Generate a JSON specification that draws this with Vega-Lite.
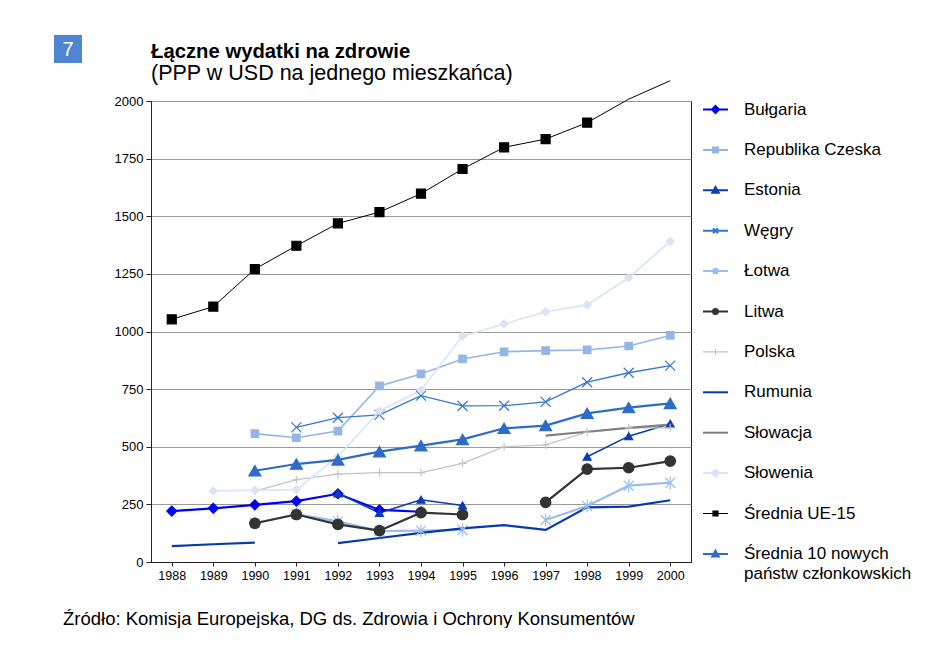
{
  "$schema": "https://vega.github.io/schema/vega-lite/v6.json",
  "padding": {"left": 54, "top": 34, "right": 0, "bottom": 0},
  "background": "white",
  "config": {
    "font": "Liberation Sans",
    "view": {"stroke": "#222222", "strokeWidth": 1}
  },
  "title": {
    "text": "Źródło: Komisja Europejska, DG ds. Zdrowia i Ochrony Konsumentów",
    "orient": "bottom",
    "anchor": "start",
    "frame": "bounds",
    "fontSize": 18.5,
    "fontWeight": "normal",
    "color": "#000000",
    "dx": 9,
    "offset": 27
  },
  "spacing": 31,
  "resolve": {"scale": {"color": "independent"}, "legend": {"color": "independent"}},
  "hconcat": [
    {
      "width": 28,
      "height": 28,
      "view": {"fill": "#4F85D2", "stroke": null},
      "data": {"values": [{"label": "7"}]},
      "mark": {"type": "text", "color": "#FFFFFF", "fontSize": 20, "align": "center", "baseline": "middle", "dy": 1},
      "encoding": {"text": {"field": "label", "type": "nominal"}}
    },
    {
      "spacing": -7,
      "resolve": {"scale": {"color": "independent"}, "legend": {"color": "independent"}},
      "vconcat": [
        {
          "width": 540,
          "height": 1,
          "view": {"stroke": null},
          "data": {"values": [{"t": ""}]},
          "mark": {"type": "text", "fontSize": 1},
          "encoding": {"text": {"field": "t", "type": "nominal"}},
          "title": {
            "text": "Łączne wydatki na zdrowie",
            "subtitle": "(PPP w USD na jednego mieszkańca)",
            "orient": "bottom",
            "anchor": "start",
            "frame": "group",
            "fontSize": 20.3,
            "fontWeight": "bold",
            "color": "#000000",
            "subtitleFontSize": 21.5,
            "subtitleColor": "#000000",
            "subtitlePadding": 1,
            "offset": 6
          }
        },
        {
          "width": 540,
          "height": 461,
          "data": {
            "values": [
              {"year": 1988, "series": "Bułgaria", "value": 221},
              {"year": 1989, "series": "Bułgaria", "value": 233},
              {"year": 1990, "series": "Bułgaria", "value": 248},
              {"year": 1991, "series": "Bułgaria", "value": 264},
              {"year": 1992, "series": "Bułgaria", "value": 296},
              {"year": 1993, "series": "Bułgaria", "value": 226},
              {"year": 1994, "series": "Bułgaria", "value": 218},
              {"year": 1990, "series": "Republika Czeska", "value": 557},
              {"year": 1991, "series": "Republika Czeska", "value": 539},
              {"year": 1992, "series": "Republika Czeska", "value": 568},
              {"year": 1993, "series": "Republika Czeska", "value": 764},
              {"year": 1994, "series": "Republika Czeska", "value": 816},
              {"year": 1995, "series": "Republika Czeska", "value": 881},
              {"year": 1996, "series": "Republika Czeska", "value": 912},
              {"year": 1997, "series": "Republika Czeska", "value": 917},
              {"year": 1998, "series": "Republika Czeska", "value": 920},
              {"year": 1999, "series": "Republika Czeska", "value": 937},
              {"year": 2000, "series": "Republika Czeska", "value": 983},
              {"year": 1992, "series": "Estonia", "value": 298},
              {"year": 1993, "series": "Estonia", "value": 213},
              {"year": 1994, "series": "Estonia", "value": 270},
              {"year": 1995, "series": "Estonia", "value": 245},
              {"year": 1996, "series": "Estonia", "value": null},
              {"year": 1997, "series": "Estonia", "value": null},
              {"year": 1998, "series": "Estonia", "value": 457},
              {"year": 1999, "series": "Estonia", "value": 546},
              {"year": 2000, "series": "Estonia", "value": 600},
              {"year": 1991, "series": "Węgry", "value": 584},
              {"year": 1992, "series": "Węgry", "value": 626},
              {"year": 1993, "series": "Węgry", "value": 638},
              {"year": 1994, "series": "Węgry", "value": 722},
              {"year": 1995, "series": "Węgry", "value": 677},
              {"year": 1996, "series": "Węgry", "value": 678},
              {"year": 1997, "series": "Węgry", "value": 695},
              {"year": 1998, "series": "Węgry", "value": 780},
              {"year": 1999, "series": "Węgry", "value": 821},
              {"year": 2000, "series": "Węgry", "value": 852},
              {"year": 1990, "series": "Łotwa", "value": 168},
              {"year": 1991, "series": "Łotwa", "value": 208},
              {"year": 1992, "series": "Łotwa", "value": 176},
              {"year": 1993, "series": "Łotwa", "value": 134},
              {"year": 1994, "series": "Łotwa", "value": 136},
              {"year": 1995, "series": "Łotwa", "value": 139},
              {"year": 1996, "series": "Łotwa", "value": null},
              {"year": 1997, "series": "Łotwa", "value": 182},
              {"year": 1998, "series": "Łotwa", "value": 243},
              {"year": 1999, "series": "Łotwa", "value": 331},
              {"year": 2000, "series": "Łotwa", "value": 344},
              {"year": 1990, "series": "Litwa", "value": 168},
              {"year": 1991, "series": "Litwa", "value": 206},
              {"year": 1992, "series": "Litwa", "value": 163},
              {"year": 1993, "series": "Litwa", "value": 136},
              {"year": 1994, "series": "Litwa", "value": 214},
              {"year": 1995, "series": "Litwa", "value": 206},
              {"year": 1996, "series": "Litwa", "value": null},
              {"year": 1997, "series": "Litwa", "value": 259},
              {"year": 1998, "series": "Litwa", "value": 403},
              {"year": 1999, "series": "Litwa", "value": 409},
              {"year": 2000, "series": "Litwa", "value": 438},
              {"year": 1990, "series": "Polska", "value": 308},
              {"year": 1991, "series": "Polska", "value": 357},
              {"year": 1992, "series": "Polska", "value": 381},
              {"year": 1993, "series": "Polska", "value": 388},
              {"year": 1994, "series": "Polska", "value": 388},
              {"year": 1995, "series": "Polska", "value": 428},
              {"year": 1996, "series": "Polska", "value": 500},
              {"year": 1997, "series": "Polska", "value": 508},
              {"year": 1998, "series": "Polska", "value": 563},
              {"year": 1999, "series": "Polska", "value": 582},
              {"year": 2000, "series": "Polska", "value": 582},
              {"year": 1988, "series": "Rumunia", "value": 69},
              {"year": 1989, "series": "Rumunia", "value": 77},
              {"year": 1990, "series": "Rumunia", "value": 84},
              {"year": 1991, "series": "Rumunia", "value": null},
              {"year": 1992, "series": "Rumunia", "value": 82},
              {"year": 1993, "series": "Rumunia", "value": 104},
              {"year": 1994, "series": "Rumunia", "value": 126},
              {"year": 1995, "series": "Rumunia", "value": 146},
              {"year": 1996, "series": "Rumunia", "value": 160},
              {"year": 1997, "series": "Rumunia", "value": 139},
              {"year": 1998, "series": "Rumunia", "value": 237},
              {"year": 1999, "series": "Rumunia", "value": 240},
              {"year": 2000, "series": "Rumunia", "value": 268},
              {"year": 1997, "series": "Słowacja", "value": 548},
              {"year": 1998, "series": "Słowacja", "value": 565},
              {"year": 1999, "series": "Słowacja", "value": 582},
              {"year": 2000, "series": "Słowacja", "value": 596},
              {"year": 1989, "series": "Słowenia", "value": 308},
              {"year": 1990, "series": "Słowenia", "value": 312},
              {"year": 1991, "series": "Słowenia", "value": 314},
              {"year": 1992, "series": "Słowenia", "value": 457},
              {"year": 1993, "series": "Słowenia", "value": 655},
              {"year": 1994, "series": "Słowenia", "value": 746},
              {"year": 1995, "series": "Słowenia", "value": 980},
              {"year": 1996, "series": "Słowenia", "value": 1033},
              {"year": 1997, "series": "Słowenia", "value": 1086},
              {"year": 1998, "series": "Słowenia", "value": 1115},
              {"year": 1999, "series": "Słowenia", "value": 1233},
              {"year": 2000, "series": "Słowenia", "value": 1391},
              {"year": 1988, "series": "Średnia UE-15", "value": 1053},
              {"year": 1989, "series": "Średnia UE-15", "value": 1108},
              {"year": 1990, "series": "Średnia UE-15", "value": 1271},
              {"year": 1991, "series": "Średnia UE-15", "value": 1372},
              {"year": 1992, "series": "Średnia UE-15", "value": 1469},
              {"year": 1993, "series": "Średnia UE-15", "value": 1518},
              {"year": 1994, "series": "Średnia UE-15", "value": 1598},
              {"year": 1995, "series": "Średnia UE-15", "value": 1705},
              {"year": 1996, "series": "Średnia UE-15", "value": 1799},
              {"year": 1997, "series": "Średnia UE-15", "value": 1835},
              {"year": 1998, "series": "Średnia UE-15", "value": 1906},
              {"year": 1999, "series": "Średnia UE-15", "value": 2008},
              {"year": 2000, "series": "Średnia UE-15", "value": 2088},
              {"year": 1990, "series": "Średnia 10 nowych państw członkowskich", "value": 396},
              {"year": 1991, "series": "Średnia 10 nowych państw członkowskich", "value": 425},
              {"year": 1992, "series": "Średnia 10 nowych państw członkowskich", "value": 443},
              {"year": 1993, "series": "Średnia 10 nowych państw członkowskich", "value": 479},
              {"year": 1994, "series": "Średnia 10 nowych państw członkowskich", "value": 505},
              {"year": 1995, "series": "Średnia 10 nowych państw członkowskich", "value": 532},
              {"year": 1996, "series": "Średnia 10 nowych państw członkowskich", "value": 580},
              {"year": 1997, "series": "Średnia 10 nowych państw członkowskich", "value": 592},
              {"year": 1998, "series": "Średnia 10 nowych państw członkowskich", "value": 645},
              {"year": 1999, "series": "Średnia 10 nowych państw członkowskich", "value": 670},
              {"year": 2000, "series": "Średnia 10 nowych państw członkowskich", "value": 688}
            ]
          },
          "encoding": {
            "x": {
              "field": "year",
              "type": "ordinal",
              "scale": {"domain": [1988, 1989, 1990, 1991, 1992, 1993, 1994, 1995, 1996, 1997, 1998, 1999, 2000], "paddingInner": 0, "paddingOuter": 0},
              "axis": {
                "title": null,
                "labelAngle": 0,
                "labelFontSize": 12.5,
                "labelColor": "#000000",
                "labelPadding": 3,
                "bandPosition": 0,
                "ticks": true,
                "tickSize": 4,
                "tickColor": "#222222",
                "domainColor": "#222222"
              }
            },
            "y": {
              "field": "value",
              "type": "quantitative",
              "scale": {"domain": [0, 2000], "nice": false},
              "axis": {
                "title": null,
                "values": [0, 250, 500, 750, 1000, 1250, 1500, 1750, 2000],
                "format": "d",
                "grid": true,
                "gridColor": "#9a9a9a",
                "gridWidth": 1.2,
                "domainColor": "#222222",
                "tickColor": "#222222",
                "tickSize": 5,
                "labelFontSize": 13,
                "labelColor": "#000000",
                "labelPadding": 3
              }
            }
          },
          "layer": [
            {
              "mark": {"type": "line", "invalid": "break-paths-show-domains"},
              "encoding": {
                "color": {
                  "field": "series",
                  "type": "nominal",
                  "scale": {
                    "domain": ["Bułgaria", "Republika Czeska", "Estonia", "Węgry", "Łotwa", "Litwa", "Polska", "Rumunia", "Słowacja", "Słowenia", "Średnia UE-15", "Średnia 10 nowych państw członkowskich"],
                    "range": ["#0000F0", "#94B6E6", "#0A3CB4", "#3477D0", "#9BBEEA", "#333333", "#C4C4C4", "#0838B0", "#808080", "#D8E4F4", "#000000", "#2C6CC8"]
                  },
                  "legend": {
                    "title": null,
                    "orient": "right",
                    "offset": 16,
                    "padding": 0,
                    "symbolSize": 625,
                    "labelFontSize": 17,
                    "labelColor": "#000000",
                    "labelOffset": 20,
                    "labelLimit": 300,
                    "rowPadding": 22.4,
                    "labelExpr": "datum.label == 'Średnia 10 nowych państw członkowskich' ? ['Średnia 10 nowych', 'państw członkowskich'] : datum.label",
                    "encode": {
                      "symbols": {
                        "update": {
                          "shape": {"signal": "datum.value == 'Bułgaria' || datum.value == 'Słowenia' ? 'M-1,0H1M0,-0.28L0.28,0L0,0.28L-0.28,0Z' : datum.value == 'Republika Czeska' || datum.value == 'Średnia UE-15' ? 'M-1,0H1M-0.2,-0.2H0.2V0.2H-0.2Z' : datum.value == 'Estonia' || datum.value == 'Średnia 10 nowych państw członkowskich' ? 'M-1,0H1M0,-0.26L0.26,0.2H-0.26Z' : datum.value == 'Węgry' ? 'M-1,0H1M-0.2,-0.2L0.2,0.2M-0.2,0.2L0.2,-0.2' : datum.value == 'Łotwa' ? 'M-1,0H1M-0.2,-0.2L0.2,0.2M-0.2,0.2L0.2,-0.2M0,-0.26V0.26' : datum.value == 'Litwa' ? 'M-1,0H1M0.2,0A0.2,0.2 0 1,1 -0.2,0A0.2,0.2 0 1,1 0.2,0Z' : datum.value == 'Polska' ? 'M-1,0H1M0,-0.26V0.26' : 'M-1,0H1'"},
                          "fill": {"signal": "datum.value == 'Bułgaria' ? '#0000F0' : datum.value == 'Republika Czeska' ? '#94B6E6' : datum.value == 'Estonia' ? '#0A3CB4' : datum.value == 'Węgry' ? '#3477D0' : datum.value == 'Łotwa' ? '#9BBEEA' : datum.value == 'Litwa' ? '#333333' : datum.value == 'Polska' ? '#C4C4C4' : datum.value == 'Rumunia' ? '#0838B0' : datum.value == 'Słowacja' ? '#808080' : datum.value == 'Słowenia' ? '#D8E4F4' : datum.value == 'Średnia UE-15' ? '#000000' : '#2C6CC8'"},
                          "stroke": {"signal": "datum.value == 'Bułgaria' ? '#0000F0' : datum.value == 'Republika Czeska' ? '#94B6E6' : datum.value == 'Estonia' ? '#0A3CB4' : datum.value == 'Węgry' ? '#3477D0' : datum.value == 'Łotwa' ? '#9BBEEA' : datum.value == 'Litwa' ? '#333333' : datum.value == 'Polska' ? '#C4C4C4' : datum.value == 'Rumunia' ? '#0838B0' : datum.value == 'Słowacja' ? '#808080' : datum.value == 'Słowenia' ? '#D8E4F4' : datum.value == 'Średnia UE-15' ? '#000000' : '#2C6CC8'"},
                          "strokeWidth": {"signal": "datum.value == 'Średnia UE-15' || datum.value == 'Polska' ? 1.2 : 2"},
                          "opacity": {"value": 1},
                          "fillOpacity": {"value": 1},
                          "strokeDash": {"value": []}
                        }
                      },
                      "labels": {
                        "update": {
                          "lineHeight": {"value": 20}
                        }
                      }
                    }
                  }
                },
                "strokeWidth": {
                  "condition": [
                    {"test": "datum.series == 'Średnia UE-15'", "value": 1},
                    {"test": "datum.series == 'Polska' || datum.series == 'Węgry'", "value": 1.3},
                    {"test": "datum.series == 'Republika Czeska' || datum.series == 'Estonia' || datum.series == 'Słowenia'", "value": 1.6}
                  ],
                  "value": 2.2
                }
              }
            },
            {
              "transform": [
                {"filter": "datum.value != null && datum.value <= 2000 && datum.series != 'Rumunia' && datum.series != 'Słowacja'"}
              ],
              "mark": {"type": "point", "filled": true, "opacity": 1, "strokeWidth": 1.2},
              "encoding": {
                "color": {
                  "condition": [
                    {"test": "datum.series == 'Bułgaria'", "value": "#0000F0"},
                    {"test": "datum.series == 'Republika Czeska'", "value": "#94B6E6"},
                    {"test": "datum.series == 'Estonia'", "value": "#0A3CB4"},
                    {"test": "datum.series == 'Węgry'", "value": "#3477D0"},
                    {"test": "datum.series == 'Łotwa'", "value": "#9BBEEA"},
                    {"test": "datum.series == 'Litwa'", "value": "#333333"},
                    {"test": "datum.series == 'Polska'", "value": "#C4C4C4"},
                    {"test": "datum.series == 'Słowenia'", "value": "#D8E4F4"},
                    {"test": "datum.series == 'Średnia UE-15'", "value": "#000000"}
                  ],
                  "value": "#2C6CC8"
                },
                "stroke": {
                  "condition": [
                    {"test": "datum.series == 'Bułgaria'", "value": "#0000F0"},
                    {"test": "datum.series == 'Republika Czeska'", "value": "#94B6E6"},
                    {"test": "datum.series == 'Estonia'", "value": "#0A3CB4"},
                    {"test": "datum.series == 'Węgry'", "value": "#3477D0"},
                    {"test": "datum.series == 'Łotwa'", "value": "#9BBEEA"},
                    {"test": "datum.series == 'Litwa'", "value": "#333333"},
                    {"test": "datum.series == 'Polska'", "value": "#C4C4C4"},
                    {"test": "datum.series == 'Słowenia'", "value": "#D8E4F4"},
                    {"test": "datum.series == 'Średnia UE-15'", "value": "#000000"}
                  ],
                  "value": "#2C6CC8"
                },
                "shape": {
                  "condition": [
                    {"test": "datum.series == 'Bułgaria' || datum.series == 'Słowenia'", "value": "diamond"},
                    {"test": "datum.series == 'Republika Czeska' || datum.series == 'Średnia UE-15'", "value": "square"},
                    {"test": "datum.series == 'Estonia' || datum.series == 'Średnia 10 nowych państw członkowskich'", "value": "triangle-up"},
                    {"test": "datum.series == 'Węgry'", "value": "M-1,-1L1,1M-1,1L1,-1"},
                    {"test": "datum.series == 'Łotwa'", "value": "M-1,-1L1,1M-1,1L1,-1M0,-1.3V1.3"},
                    {"test": "datum.series == 'Litwa'", "value": "circle"}
                  ],
                  "value": "M-1,0H1M0,-1V1"
                },
                "size": {
                  "condition": [
                    {"test": "datum.series == 'Bułgaria'", "value": 100},
                    {"test": "datum.series == 'Republika Czeska'", "value": 56},
                    {"test": "datum.series == 'Estonia'", "value": 64},
                    {"test": "datum.series == 'Litwa'", "value": 110},
                    {"test": "datum.series == 'Polska' || datum.series == 'Słowenia'", "value": 64},
                    {"test": "datum.series == 'Średnia UE-15'", "value": 81},
                    {"test": "datum.series == 'Średnia 10 nowych państw członkowskich'", "value": 144}
                  ],
                  "value": 100
                }
              }
            }
          ]
        }
      ]
    }
  ]
}
